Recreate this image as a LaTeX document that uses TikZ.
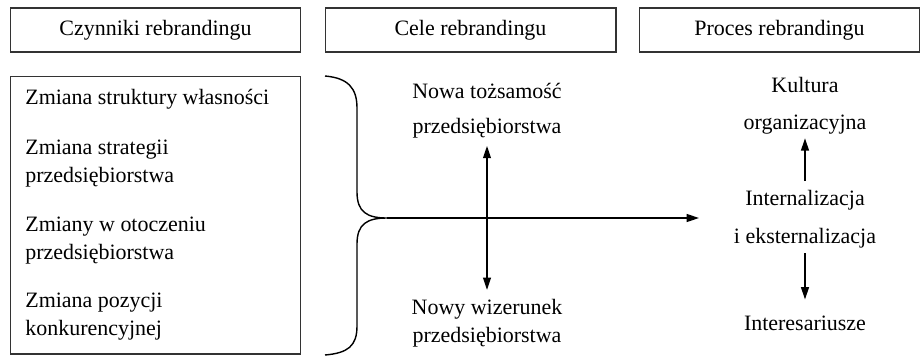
\documentclass[tikz,border=0pt]{standalone}
\usepackage{fontspec}
\setmainfont{Liberation Serif}
\usetikzlibrary{arrows.meta}

\tikzset{
  header/.style={draw=black!80, line width=0.6pt, minimum width=5.82cm, minimum height=0.88cm, font=\fontsize{12.5}{16}\selectfont},
  item/.style={anchor=west, align=left, inner sep=0pt, font=\fontsize{12.5}{16}\selectfont},
  label/.style={align=center, inner sep=0pt, font=\fontsize{12.5}{16}\selectfont},
  link/.style={line width=0.8pt, -{Triangle[length=7pt,width=4.5pt]}},
  twoway/.style={line width=0.8pt, {Triangle[length=7pt,width=4.5pt]}-{Triangle[length=7pt,width=4.5pt]}}
}

\begin{document}
\begin{tikzpicture}[x=0.02cm, y=-0.02cm]
		%%%%% START %%%%%
		\useasboundingbox (0, 0) rectangle (921, 356);
		
		% headers
		\node[header] (hfactors) at (155.5, 30) {Czynniki rebrandingu};
		\node[header] (hgoals) at (470.5, 30) {Cele rebrandingu};
		\node[header, minimum width=5.6cm] (hprocess) at (779.5, 30) {Proces rebrandingu};
		
		% factors
		\node[draw=black!80, line width=0.6pt, minimum width=5.82cm, minimum height=5.56cm] (factors) at (155.5, 215) {};
		\node[item] (f1) at (25, 99) {Zmiana struktury własności};
		\node[item] (f2) at (25, 164) {Zmiana strategii\\przedsiębiorstwa};
		\node[item] (f3) at (25, 241) {Zmiany w otoczeniu\\przedsiębiorstwa};
		\node[item] (f4) at (25, 317) {Zmiana pozycji\\konkurencyjnej};
		
		% brace
		\coordinate (tip) at (387, 218);
		\draw[line width=0.8pt] (325, 76) .. controls (348, 78) and (357, 88) .. (357, 108)
			-- (357, 192) .. controls (357, 212) and (367, 218) .. (tip)
			.. controls (367, 218) and (357, 224) .. (357, 244)
			-- (357, 326) .. controls (357, 346) and (348, 353) .. (325, 355);
		
		% goals
		\node[label] (newid) at (487, 111) {Nowa tożsamość\\[4pt]przedsiębiorstwa};
		\node[label] (newimg) at (487, 323) {Nowy wizerunek\\przedsiębiorstwa};
		\draw[twoway, shorten <=4pt, shorten >=5pt] (newid.south) -- (newimg.north);
		
		% process
		\node[label] (culture) at (805, 106) {Kultura\\[5pt]organizacyjna};
		\node[label] (internal) at (805, 219) {Internalizacja\\[5.5pt]i eksternalizacja};
		\node[label] (stake) at (805, 323) {Interesariusze};
		\draw[link, shorten <=5pt, shorten >=2pt] (internal.north) -- (culture.south);
		\draw[link, shorten <=3pt, shorten >=9pt] (internal.south) -- (stake.north);
		
		\draw[link] (tip) -- (699, 218) coordinate (end);
		
		%%%%% END %%%%%
	\end{tikzpicture}
\end{document}
